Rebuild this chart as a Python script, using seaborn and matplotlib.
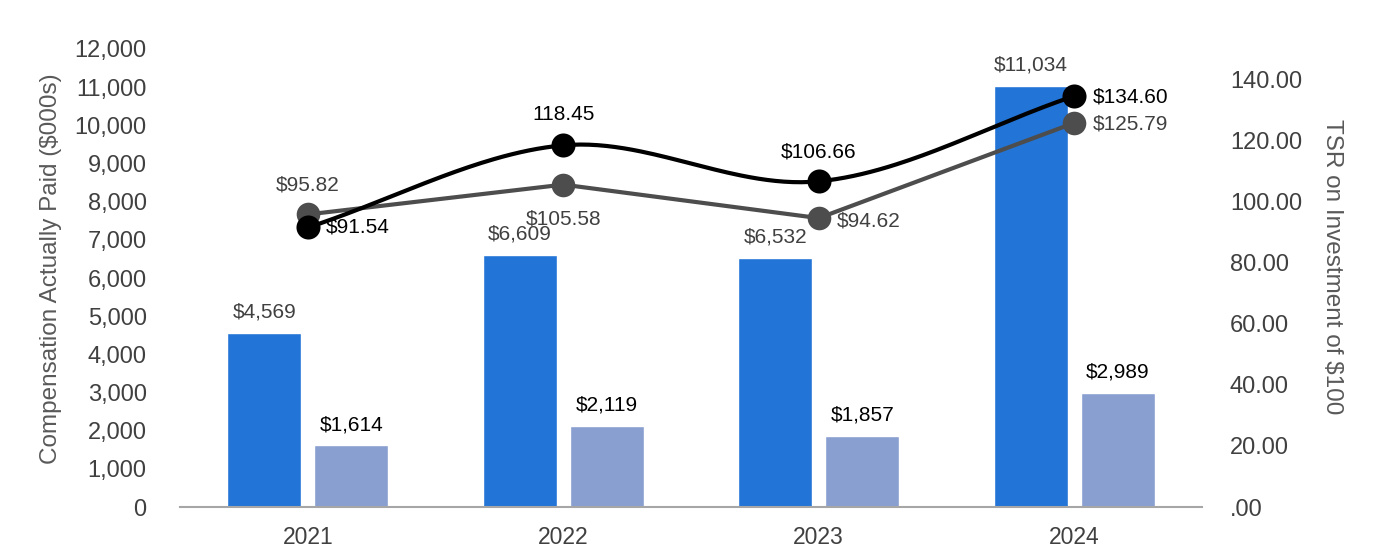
import numpy as np
import pandas as pd
import matplotlib
matplotlib.use("Agg")
import matplotlib.pyplot as plt
import seaborn as sns

years = ["2021", "2022", "2023", "2024"]
peo_cap = [4569, 6609, 6532, 11034]
neo_cap = [1614, 2119, 1857, 2989]
company_tsr = [91.54, 118.45, 106.66, 134.60]
peer_tsr = [95.82, 105.58, 94.62, 125.79]

bar_labels_peo = ["$4,569", "$6,609", "$6,532", "$11,034"]
bar_labels_neo = ["$1,614", "$2,119", "$1,857", "$2,989"]
company_labels = ["$91.54", "118.45", "$106.66", "$134.60"]
peer_labels = ["$95.82", "$105.58", "$94.62", "$125.79"]

sns.set_theme(style="white")
plt.rcParams["font.family"] = ["Liberation Sans", "DejaVu Sans"]

DARK = "#2274D6"
LIGHT = "#889FD0"
GRAY = "#4D4D4D"
TXT = "#404040"

df = pd.DataFrame({
    "year": years * 2,
    "value": peo_cap + neo_cap,
    "series": ["PEO"] * 4 + ["NEO"] * 4,
})

fig = plt.figure(figsize=(13.82, 5.6), dpi=100)
ax = fig.add_axes([180 / 1382, 1 - 507 / 560, 1022 / 1382, 458 / 560])

sns.barplot(data=df, x="year", y="value", hue="series", order=years,
            hue_order=["PEO", "NEO"], palette=[DARK, LIGHT], width=0.68,
            gap=0.15, saturation=1, legend=False, ax=ax, errorbar=None)

ax.set_xlim(-0.5, 3.5)
ax.set_ylim(0, 12000)
ax.set_yticks(np.arange(0, 12001, 1000))
ax.set_yticklabels([f"{v:,}" for v in range(0, 12001, 1000)])
ax.tick_params(axis="y", length=0, pad=24, labelsize=17, labelcolor=TXT)
ax.tick_params(axis="x", length=0, pad=14, labelsize=16.5, labelcolor=TXT)
ax.set_xlabel("")
ax.set_ylabel("Compensation Actually Paid ($000s)", fontsize=17.5, color="#595959", va="center")
ax.yaxis.set_label_coords(-0.126, 0.52)
for s in ["top", "left", "right"]:
    ax.spines[s].set_visible(False)
ax.spines["bottom"].set_color("#A6A6A6")
ax.spines["bottom"].set_linewidth(1.5)

# bar labels
containers = ax.containers
for cont, labels, col in [(containers[0], bar_labels_peo, TXT), (containers[1], bar_labels_neo, "black")]:
    for rect, lab in zip(cont, labels):
        ax.annotate(lab, (rect.get_x() + rect.get_width() / 2, rect.get_height()),
                    xytext=(0, 15), textcoords="offset points", ha="center", va="center",
                    fontsize=15, color=col)

# right axis
ax2 = ax.twinx()
ax2.set_ylim(0, 150)
ax2.set_yticks(np.arange(0, 141, 20))
ax2.set_yticklabels([".00"] + [f"{v:.2f}" for v in range(20, 141, 20)])
ax2.tick_params(axis="y", length=0, pad=20, labelsize=17, labelcolor=TXT)
ax2.set_ylabel("TSR on Investment of $100", fontsize=17.5, color="#595959", rotation=270, va="center")
ax2.yaxis.set_label_coords(1.127, 0.525)
for s in ["top", "left", "right", "bottom"]:
    ax2.spines[s].set_visible(False)

xpos = np.arange(len(years))

# peer (straight line)
sns.lineplot(x=xpos, y=peer_tsr, ax=ax2, color=GRAY, linewidth=3, marker="o",
             markersize=17, markeredgewidth=0, zorder=3)

# company (smoothed Catmull-Rom rendering through the data points)
def catmull_rom(xs, ys, n=60):
    xs = np.asarray(xs, float); ys = np.asarray(ys, float)
    P = np.column_stack([xs, ys])
    P = np.vstack([P[0] - (P[1] - P[0]), P, P[-1] + (P[-1] - P[-2])])
    out = []
    for i in range(1, len(P) - 2):
        p0, p1, p2, p3 = P[i - 1], P[i], P[i + 1], P[i + 2]
        t = np.linspace(0, 1, n)[:, None]
        seg = 0.5 * ((2 * p1) + (-p0 + p2) * t + (2 * p0 - 5 * p1 + 4 * p2 - p3) * t ** 2
                     + (-p0 + 3 * p1 - 3 * p2 + p3) * t ** 3)
        out.append(seg)
    return np.vstack(out)

curve = catmull_rom(xpos, company_tsr)
ax2.plot(curve[:, 0], curve[:, 1], color="black", linewidth=3, zorder=4, solid_capstyle="round")
sns.scatterplot(x=xpos, y=company_tsr, ax=ax2, color="black", s=300, linewidth=0, zorder=5)

# line labels (offsets in points)
comp_off = [(13, 0, "left"), (0, 22, "center"), (0, 21, "center"), (13, -1, "left")]
peer_off = [(0, 21, "center"), (0, -25, "center"), (13, -2, "left"), (13, -1, "left")]
for x, y, lab, (dx, dy, ha) in zip(xpos, company_tsr, company_labels, comp_off):
    ax2.annotate(lab, (x, y), xytext=(dx, dy), textcoords="offset points", ha=ha, va="center",
                 fontsize=15, color="black", zorder=6)
for x, y, lab, (dx, dy, ha) in zip(xpos, peer_tsr, peer_labels, peer_off):
    ax2.annotate(lab, (x, y), xytext=(dx, dy), textcoords="offset points", ha=ha, va="center",
                 fontsize=15, color=TXT, zorder=6)

ax2.set_xlim(-0.5, 3.5)
fig.savefig("out.png", dpi=100)
